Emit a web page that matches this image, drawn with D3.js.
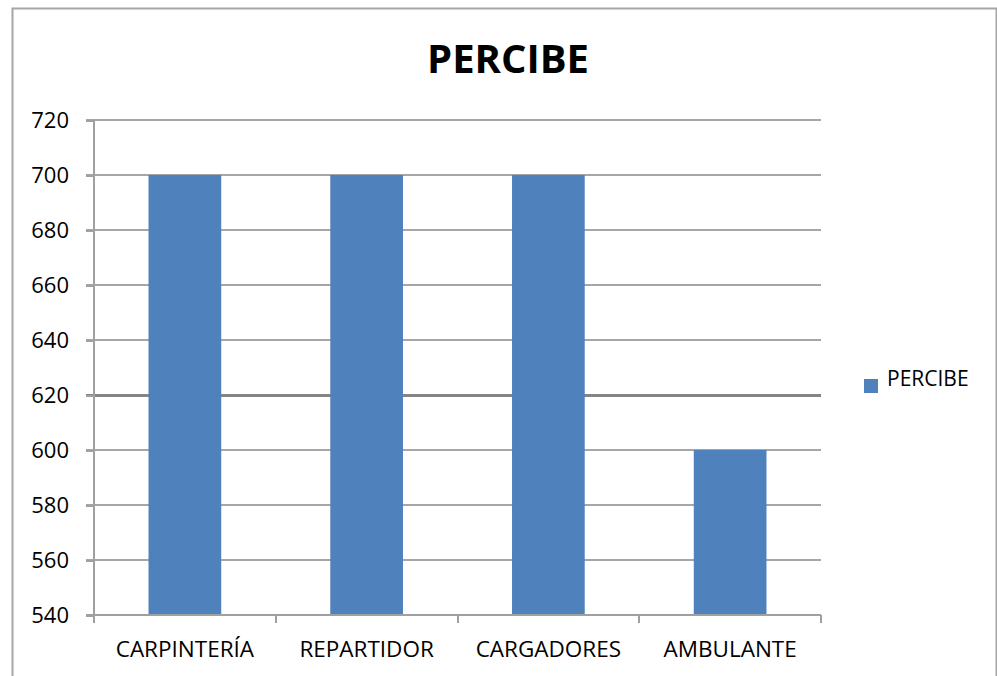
<!DOCTYPE html>
<meta charset="utf-8">
<style>
body { margin: 0; background: #fff; }
text { font-family: "Open Sans", "Liberation Sans", sans-serif; fill: #000; }
.grid line { stroke: #a6a6a6; stroke-width: 2; shape-rendering: crispEdges; }
.axis path, .axis line { stroke: #a0a0a0; stroke-width: 2; shape-rendering: crispEdges; }
</style>
<svg width="997" height="676"></svg>
<script src="https://cdn.jsdelivr.net/npm/d3@7/dist/d3.min.js"></script>
<script>

var categories = ["CARPINTERÍA", "REPARTIDOR", "CARGADORES", "AMBULANTE"];
var values = [700, 700, 700, 600];
var yTicks = [540, 560, 580, 600, 620, 640, 660, 680, 700, 720];
var seriesName = "PERCIBE";

var svg = d3.select("svg");

// chart frame (bottom edge falls outside the picture)
svg.append("path")
    .attr("d", "M12.5,690V8.5H996.5V690")
    .attr("fill", "none")
    .attr("stroke", "#a6a6a6")
    .attr("stroke-width", 2);

var pLeft = 94, pRight = 821, pTop = 120, pBottom = 615;

var x = d3.scaleBand().domain(categories).range([pLeft, pRight]).padding(0);
var y = d3.scaleLinear().domain([540, 720]).range([pBottom, pTop]);

// gridlines
svg.append("g").attr("class", "grid")
  .selectAll("line").data(yTicks.filter(function(d){ return d > 540; }))
  .enter().append("line")
    .attr("x1", pLeft - 8).attr("x2", pRight)
    .attr("y1", function(d){ return Math.round(y(d)); })
    .attr("y2", function(d){ return Math.round(y(d)); })
    .style("stroke", function(d){ return d === 620 ? "#858585" : null; })
    .style("stroke-width", function(d){ return d === 620 ? 3 : null; });

// bars
svg.append("g").selectAll("rect").data(values)
  .enter().append("rect")
    .attr("x", function(d, i){ return x(categories[i]) + x.bandwidth() * 0.3; })
    .attr("width", x.bandwidth() * 0.4)
    .attr("y", function(d){ return y(d); })
    .attr("height", function(d){ return pBottom - y(d); })
    .attr("fill", "#4f81bd");

// y axis
var yAxis = d3.axisLeft(y).tickValues(yTicks).tickSize(8).tickPadding(17);
var gy = svg.append("g").attr("class", "axis")
    .attr("transform", "translate(" + pLeft + ",0)")
    .call(yAxis);
gy.select(".domain").attr("d", "M0," + pTop + "V" + pBottom);
gy.selectAll("text").style("font-size", "22px").attr("dy", "0.35em");

// x axis
var gx = svg.append("g").attr("class", "axis")
    .attr("transform", "translate(0," + pBottom + ")");
gx.append("line").attr("x1", pLeft - 8).attr("x2", pRight).attr("y1", 0).attr("y2", 0);
gx.selectAll(".tk").data(d3.range(categories.length + 1))
  .enter().append("line").attr("class", "tk")
    .attr("x1", function(i){ return pLeft + i * x.step(); })
    .attr("x2", function(i){ return pLeft + i * x.step(); })
    .attr("y1", 0).attr("y2", 8);
gx.selectAll("text").data(categories)
  .enter().append("text")
    .attr("x", function(d){ return x(d) + x.bandwidth() / 2; })
    .attr("y", 42)
    .attr("text-anchor", "middle")
    .style("font-size", "22.5px")
    .text(function(d){ return d; });

// title
svg.append("text")
    .attr("x", 508).attr("y", 73)
    .attr("text-anchor", "middle")
    .style("font-size", "40px")
    .style("font-weight", "bold")
    .text(seriesName);

// legend
var lg = svg.append("g").attr("transform", "translate(864,379)");
lg.append("rect").attr("width", 14).attr("height", 14).attr("fill", "#4f81bd");
lg.append("text").attr("x", 23).attr("y", 7).style("font-size", "21px").text(seriesName);

</script>
